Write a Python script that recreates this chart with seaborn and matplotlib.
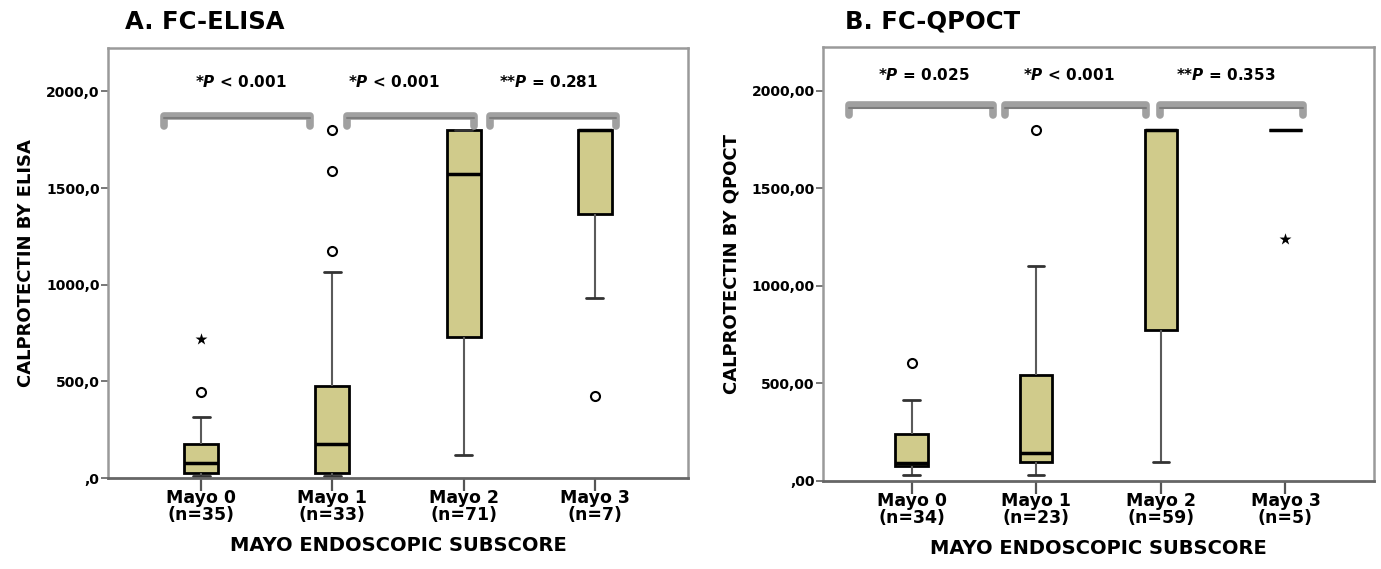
import numpy as np
import pandas as pd
import seaborn as sns
import matplotlib.pyplot as plt

mayo = ['Mayo 0', 'Mayo 1', 'Mayo 2', 'Mayo 3']
n_elisa = [35, 33, 71, 7]
n_qpoct = [34, 23, 59, 5]

# box summaries: whisker low, Q1, median, Q3, whisker high
elisa_lo = [10, 10, 119, 933]
elisa_q1 = [26, 26, 729, 1367]
elisa_med = [78, 176, 1573, 1803]
elisa_q3 = [176, 475, 1803, 1803]
elisa_hi = [315, 1067, 1803, 1803]

qpoct_lo = [31, 31, 97, 1801]
qpoct_q1 = [77, 97, 774, 1801]
qpoct_med = [92, 144, 1801, 1801]
qpoct_q3 = [241, 544, 1801, 1801]
qpoct_hi = [415, 1103, 1801, 1801]

# outliers (circles) and extremes (stars)
elisa_out_cat = ['Mayo 0', 'Mayo 1', 'Mayo 1', 'Mayo 1', 'Mayo 3']
elisa_out_val = [444, 1176, 1588, 1803, 423]
elisa_ext_cat = ['Mayo 0']
elisa_ext_val = [718]
qpoct_out_cat = ['Mayo 0', 'Mayo 1']
qpoct_out_val = [605, 1801]
qpoct_ext_cat = ['Mayo 3']
qpoct_ext_val = [1242]

# p-value annotations
elisa_p = ['*$P$ < 0.001', '*$P$ < 0.001', '**$P$ = 0.281']
qpoct_p = ['*$P$ = 0.025', '*$P$ < 0.001', '**$P$ = 0.353']
elisa_p_x = [0.30, 1.47, 2.65]
qpoct_p_x = [0.10, 1.26, 2.52]
elisa_br = [(-0.28, 0.83), (1.11, 2.08), (2.20, 3.16)]
qpoct_br = [(-0.50, 0.65), (0.75, 1.88), (1.99, 3.14)]

sns.set_style('white')
plt.rcParams['font.family'] = ['DejaVu Sans']
plt.rcParams['font.weight'] = 'bold'
plt.rcParams['text.color'] = 'black'
plt.rcParams['axes.labelcolor'] = 'black'
plt.rcParams['xtick.labelcolor'] = 'black'
plt.rcParams['ytick.labelcolor'] = 'black'
plt.rcParams['mathtext.fontset'] = 'custom'
plt.rcParams['mathtext.it'] = 'DejaVu Sans:bold:italic'
plt.rcParams['mathtext.rm'] = 'DejaVu Sans:bold'

box_color = '#D0CB8B'


def panel(ax, lo, q1, med, q3, hi, ns, out_cat, out_val, ext_cat, ext_val,
          ptxt, ptx, pty, brs, bry, ylab, ticklabels):
    df = pd.DataFrame({
        'group': np.repeat(mayo, 5),
        'value': np.column_stack([lo, q1, med, q3, hi]).ravel(),
    })
    sns.boxplot(data=df, x='group', y='value', order=mayo, ax=ax,
                whis=(0, 100), width=0.26, color=box_color, saturation=1,
                linecolor='black', linewidth=2, showfliers=False,
                whiskerprops=dict(color='#5a5a5a', linewidth=1.5),
                capprops=dict(color='#333333', linewidth=2),
                medianprops=dict(color='black', linewidth=2.5))
    sns.stripplot(x=out_cat, y=out_val, order=mayo, jitter=False, ax=ax,
                  color='white', edgecolor='black', linewidth=1.5, size=6.5,
                  marker='o', zorder=5)
    sns.stripplot(x=ext_cat, y=ext_val, order=mayo, jitter=False, ax=ax,
                  color='black', linewidth=0, size=9, marker='*', zorder=5)

    for (x0, x1) in brs:
        ax.plot([x0, x0, x1, x1], [bry - 50, bry, bry, bry - 50],
                color='#a0a0a0', lw=5.5, solid_capstyle='round',
                solid_joinstyle='round', zorder=3)
        ax.plot([x0, x1], [bry - 12, bry - 12], color='#7d7d7d', lw=1.5,
                zorder=3)
    for t, x in zip(ptxt, ptx):
        ax.text(x, pty, t, ha='center', va='center', fontsize=11,
                fontweight='bold')

    ax.set_xlim(-0.71, 3.71)
    ax.set_ylim(0, 2225)
    ax.set_xticks(range(4), labels=[f'{m}\n(n={n})' for m, n in zip(mayo, ns)],
                  fontsize=12.5, fontweight='bold', linespacing=0.95)
    ax.set_yticks([0, 500, 1000, 1500, 2000], labels=ticklabels,
                  fontsize=10, fontweight='bold')
    ax.tick_params(axis='x', length=9, width=1.6, color='#555555', pad=-1,
                   bottom=True)
    ax.tick_params(axis='y', length=5, width=1.4, color='#777777', pad=1,
                   left=True)
    ax.set_xlabel('MAYO ENDOSCOPIC SUBSCORE', fontsize=14, fontweight='bold',
                  labelpad=8)
    ax.set_ylabel(ylab, fontsize=13, fontweight='bold', labelpad=8)
    for side in ['top', 'right', 'left']:
        ax.spines[side].set_color('#9a9a9a')
        ax.spines[side].set_linewidth(1.8)
    ax.spines['bottom'].set_color('#666666')
    ax.spines['bottom'].set_linewidth(2)


fig = plt.figure(figsize=(13.81, 5.69), dpi=100)
ax1 = fig.add_axes([108 / 1381, 1 - 478 / 569, 580 / 1381, 430 / 569])
ax2 = fig.add_axes([823 / 1381, 1 - 481 / 569, 551 / 1381, 434 / 569])

panel(ax1, elisa_lo, elisa_q1, elisa_med, elisa_q3, elisa_hi, n_elisa,
      elisa_out_cat, elisa_out_val, elisa_ext_cat, elisa_ext_val,
      elisa_p, elisa_p_x, 2047, elisa_br, 1873, 'CALPROTECTIN BY ELISA',
      [',0', '500,0', '1000,0', '1500,0', '2000,0'])
panel(ax2, qpoct_lo, qpoct_q1, qpoct_med, qpoct_q3, qpoct_hi, n_qpoct,
      qpoct_out_cat, qpoct_out_val, qpoct_ext_cat, qpoct_ext_val,
      qpoct_p, qpoct_p_x, 2083, qpoct_br, 1926, 'CALPROTECTIN BY QPOCT',
      [',00', '500,00', '1000,00', '1500,00', '2000,00'])

fig.text(125 / 1381, 1 - 22 / 569, 'A. FC-ELISA', fontsize=17.5,
         fontweight='bold', ha='left', va='center')
fig.text(845 / 1381, 1 - 22 / 569, 'B. FC-QPOCT', fontsize=17.5,
         fontweight='bold', ha='left', va='center')

fig.savefig('out.png', dpi=100)
